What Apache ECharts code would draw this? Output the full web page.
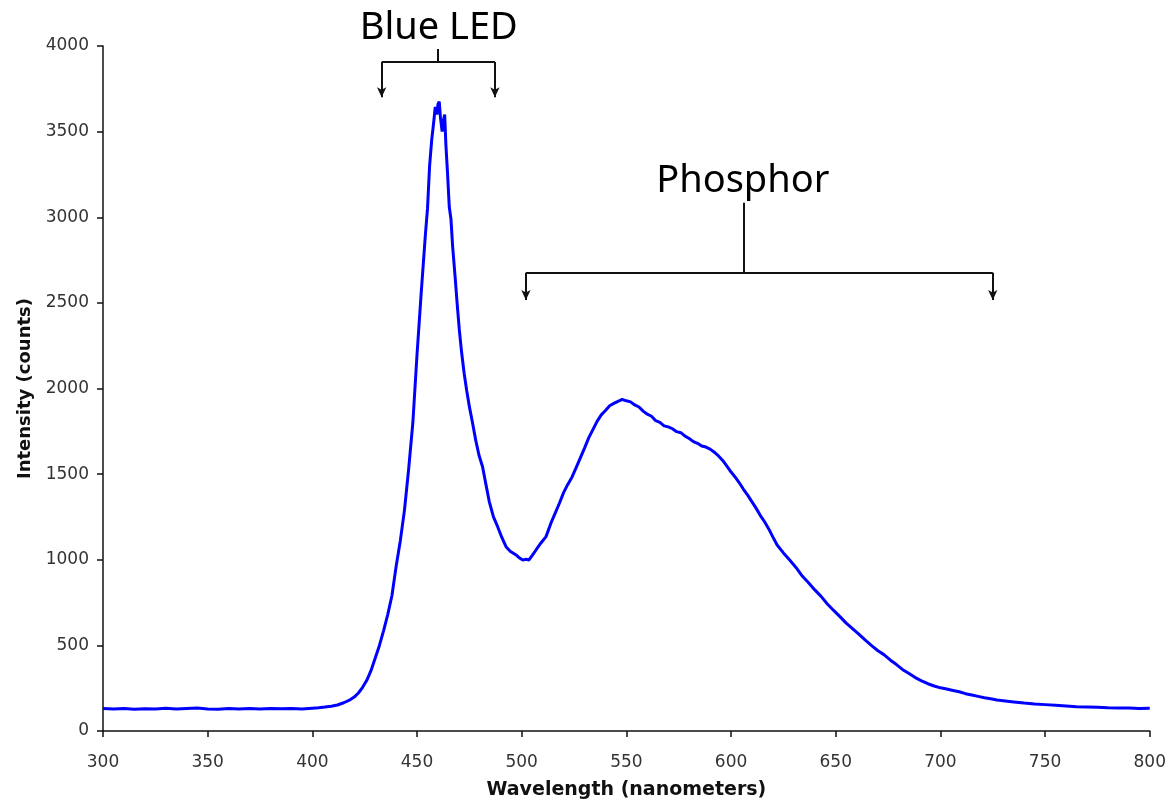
<!DOCTYPE html>
<html>
<head>
<meta charset="utf-8">
<script src="https://cdn.jsdelivr.net/npm/echarts@6/dist/echarts.min.js"></script>
<style>html,body{margin:0;padding:0;background:#fff}#c{width:1169px;height:806px}</style>
</head>
<body>
<div id="c"></div>
<script>
// Wavelength (nm) and intensity (counts)
var wavelengths = [
300,305,310,315,320,325,330,335,340,345,350,355,360,365,370,375,380,385,390,395,400,403,406,409,412,
415,418,420,422,424,426,428,430,432,434,436,438,440,442,444,446,448,450,452,454,455,456,457,458,458.7,
459.5,460,460.6,461.2,462,462.6,463.2,463.8,464.6,465.4,466.2,467,468.3,469.2,470.2,471.3,472.5,473.7,475,476.5,
478,479.6,481.3,482.9,484.5,486.5,488.5,490.5,492.5,494.5,497.3,499,500.5,502,503.5,505.2,507,509,511.6,514,
516,518,520,522,524,526,528,530,532,534,536,538,540,542,544,546,548,550,552,554,
556,558,560,562,564,566,568,570,572,574,576,578,580,582,584,586,588,590,592,594,
596,598,600,602,604,606,608,610,612,614,616,618,620,622,625,628,631,634,637,640,
643,646,649,652,655,658,661,664,667,670,673,676,679,682,685,688,691,694,697,700,
703,706,709,712,715,718,721,724,727,730,735,740,745,750,755,760,765,770,775,780,
785,790,795,800
];
var intensities = [
132,128,131,127,130,129,133,128,131,134,129,127,131,128,132,129,132,130,131,128,133,136,140,145,152,
165,182,198,222,255,296,352,425,498,585,680,790,960,1110,1290,1530,1800,2200,2560,2900,3050,3300,3450,3560,3645,
3600,3660,3675,3580,3500,3565,3600,3420,3250,3060,2990,2830,2634,2490,2342,2210,2089,1990,1894,1800,
1700,1610,1543,1440,1340,1250,1193,1130,1076,1050,1028,1010,998,1003,999,1028,1060,1095,1135,1215,
1272,1330,1392,1440,1482,1538,1595,1652,1712,1760,1808,1846,1872,1899,1913,1925,1936,1928,1922,1904,
1892,1868,1850,1838,1812,1802,1782,1776,1765,1748,1742,1722,1708,1690,1680,1664,1658,1646,1628,1606,
1580,1546,1512,1482,1448,1410,1376,1338,1300,1258,1222,1180,1132,1086,1040,998,955,905,866,824,
786,742,704,668,630,598,566,532,500,470,446,415,388,358,336,312,293,276,263,252,
245,237,229,218,210,202,194,188,181,177,170,163,158,154,150,146,142,140,138,136,
135,134,131,133
];
var xTicks = {min: 300, max: 800, step: 50};
var yTicks = {min: 0, max: 4000, step: 500};
var xTitle = 'Wavelength (nanometers)';
var yTitle = 'Intensity (counts)';

// Annotation brackets in data units
var annotations = [
  {text: 'Blue LED', stemX: 460.1, stemTop: 3983, barY: 3907, tipY: 3701, left: 433.1, right: 487.2, textX: 460.4, textY: 3993},
  {text: 'Phosphor', stemX: 605.9, stemTop: 3085, barY: 2676, tipY: 2517, left: 502.0, right: 725.0, textX: 605.6, textY: 3099}
];

var points = wavelengths.map(function (w, i) { return [w, intensities[i]]; });

var markData = [];
annotations.forEach(function (a) {
  markData.push([{coord: [a.stemX, a.stemTop]}, {coord: [a.stemX, a.barY]}]);
  markData.push([{coord: [a.left, a.barY]}, {coord: [a.right, a.barY]}]);
  markData.push([{coord: [a.left, a.barY]}, {coord: [a.left, a.tipY], symbol: 'arrow', symbolSize: [7, 10]}]);
  markData.push([{coord: [a.right, a.barY]}, {coord: [a.right, a.tipY], symbol: 'arrow', symbolSize: [7, 10]}]);
});

var labelStyle = {color: '#333', fontSize: 17, fontFamily: 'DejaVu Sans, sans-serif'};
var xTitleStyle = {color: '#111', fontSize: 19, fontWeight: 'bold', fontFamily: 'DejaVu Sans, sans-serif'};
var yTitleStyle = {color: '#111', fontSize: 18, fontWeight: 'bold', fontFamily: 'DejaVu Sans, sans-serif'};

var chart = echarts.init(document.getElementById('c'), null, {renderer: 'canvas'});
chart.setOption({
  animation: false,
  backgroundColor: '#fff',
  grid: {left: 103, right: 19, top: 46, bottom: 75, containLabel: false},
  xAxis: {
    type: 'value', min: xTicks.min, max: xTicks.max, interval: xTicks.step,
    name: xTitle, nameLocation: 'middle', nameGap: 50, nameTextStyle: xTitleStyle,
    axisLine: {show: true, onZero: false, lineStyle: {color: '#111', width: 1.5}},
    axisTick: {show: true, length: 6, lineStyle: {color: '#111', width: 1.5}},
    axisLabel: Object.assign({margin: 23}, labelStyle),
    splitLine: {show: false}
  },
  yAxis: {
    type: 'value', min: yTicks.min, max: yTicks.max, interval: yTicks.step,
    name: yTitle, nameLocation: 'middle', nameGap: 69, nameRotate: 90, nameTextStyle: yTitleStyle,
    axisLine: {show: true, lineStyle: {color: '#111', width: 1.5}},
    axisTick: {show: true, length: 6, lineStyle: {color: '#111', width: 1.5}},
    axisLabel: Object.assign({margin: 14, formatter: function (v) { return String(v); }}, labelStyle),
    splitLine: {show: false}
  },
  series: [{
    type: 'line',
    data: points,
    showSymbol: false,
    smooth: false,
    lineStyle: {color: '#0000ff', width: 3},
    itemStyle: {color: '#0000ff'},
    markLine: {
      silent: true,
      symbol: ['none', 'none'],
      label: {show: false},
      lineStyle: {color: '#111', width: 2, type: 'solid'},
      emphasis: {disabled: true},
      data: markData
    }
  }]
});

var graphics = annotations.map(function (a) {
  var p = chart.convertToPixel({gridIndex: 0}, [a.textX, a.textY]);
  return {
    type: 'text', x: p[0], y: p[1], silent: true,
    style: {text: a.text, fill: '#000', fontSize: 38, fontFamily: 'Noto Sans, sans-serif', align: 'center', verticalAlign: 'bottom'}
  };
});
chart.setOption({graphic: graphics});
</script>
</body>
</html>
